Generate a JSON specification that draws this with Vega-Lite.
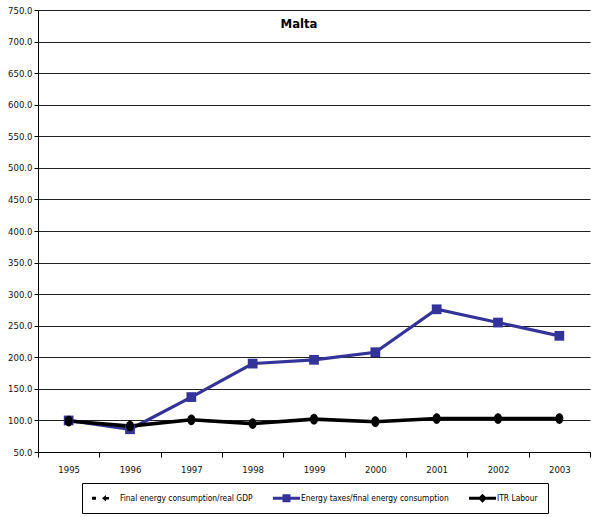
{
  "$schema": "https://vega.github.io/schema/vega-lite/v6.json",
  "width": 552,
  "height": 442,
  "autosize": {"type": "none"},
  "padding": {"left": 38, "top": 10, "right": 2, "bottom": 65},
  "background": "white",
  "config": {
    "font": "DejaVu Sans Condensed",
    "view": {"stroke": null},
    "axis": {"labelFont": "DejaVu Sans Condensed", "labelFontSize": 9.5, "labelColor": "#111", "domainColor": "black", "tickColor": "black", "title": null}
  },
  "title": {"text": "Malta", "fontSize": 13, "fontWeight": "bold", "font": "DejaVu Sans Condensed", "anchor": "middle", "frame": "group", "offset": -26, "dx": -15, "color": "black"},
  "data": {"values": [
    {"year": "1995", "series": "Energy taxes/final energy consumption", "value": 100},
    {"year": "1996", "series": "Energy taxes/final energy consumption", "value": 86},
    {"year": "1997", "series": "Energy taxes/final energy consumption", "value": 137},
    {"year": "1998", "series": "Energy taxes/final energy consumption", "value": 190},
    {"year": "1999", "series": "Energy taxes/final energy consumption", "value": 196},
    {"year": "2000", "series": "Energy taxes/final energy consumption", "value": 208},
    {"year": "2001", "series": "Energy taxes/final energy consumption", "value": 276},
    {"year": "2002", "series": "Energy taxes/final energy consumption", "value": 255},
    {"year": "2003", "series": "Energy taxes/final energy consumption", "value": 234},
    {"year": "1995", "series": "ITR Labour", "value": 99},
    {"year": "1996", "series": "ITR Labour", "value": 91},
    {"year": "1997", "series": "ITR Labour", "value": 101},
    {"year": "1998", "series": "ITR Labour", "value": 95},
    {"year": "1999", "series": "ITR Labour", "value": 102},
    {"year": "2000", "series": "ITR Labour", "value": 98},
    {"year": "2001", "series": "ITR Labour", "value": 103},
    {"year": "2002", "series": "ITR Labour", "value": 103},
    {"year": "2003", "series": "ITR Labour", "value": 103}
  ]},
  "encoding": {
    "x": {"field": "year", "type": "ordinal", "scale": {"type": "band", "paddingInner": 0, "paddingOuter": 0},
      "axis": {"tickBand": "extent", "labelAngle": 0, "tickSize": 5, "labelPadding": 7, "grid": false}},
    "y": {"field": "value", "type": "quantitative", "scale": {"domain": [50, 750], "nice": false, "zero": false},
      "axis": {"values": [50,100,150,200,250,300,350,400,450,500,550,600,650,700,750], "format": ".1f", "tickSize": 4, "labelPadding": 2, "grid": true, "gridColor": "#222", "gridWidth": 1, "gridOpacity": 1}}
  },
  "layer": [
    {
      "mark": {"type": "point", "filled": true, "size": 1, "opacity": 1},
      "encoding": {
        "fill": {"field": "series", "type": "nominal",
          "scale": {"domain": ["Final energy consumption/real GDP", "Energy taxes/final energy consumption", "ITR Labour"], "range": ["black", "#333399", "black"]},
          "legend": {"title": null, "orient": "none", "legendX": 44, "legendY": 473, "direction": "horizontal", "columns": 3, "columnPadding": 20,
            "strokeColor": "black", "padding": 10, "symbolSize": 100, "symbolStrokeWidth": 0, "symbolOpacity": 1,
            "labelFontSize": 8.4, "labelColor": "black", "labelOffset": 18, "labelLimit": 300}},
        "shape": {"field": "series", "type": "nominal",
          "scale": {"domain": ["Final energy consumption/real GDP", "Energy taxes/final energy consumption", "ITR Labour"],
            "range": ["M-1,-0.3H-0.2V0.3H-1Z M1,0L1.8,-0.65V-0.25H2.4V0.25H1.8V0.65Z",
                      "M-1,-0.3H4.4V0.3H-1Z M0.9,-0.8H2.5V0.8H0.9Z",
                      "M-1,-0.3H4.4V0.3H-1Z M1.7,-0.9L2.6,0L1.7,0.9L0.8,0Z"]}}
      }
    },
    {
      "transform": [{"filter": "datum.series === 'Energy taxes/final energy consumption'"}],
      "mark": {"type": "line", "strokeWidth": 3.2, "color": "#333399"},
      "encoding": {}
    },
    {
      "transform": [{"filter": "datum.series === 'ITR Labour'"}],
      "mark": {"type": "line", "strokeWidth": 3.6, "color": "black"},
      "encoding": {}
    },
    {
      "transform": [{"filter": "datum.series === 'Energy taxes/final energy consumption'"}],
      "mark": {"type": "point", "filled": true, "opacity": 1, "size": 95, "shape": "square", "color": "#333399"},
      "encoding": {}
    },
    {
      "transform": [{"filter": "datum.series === 'ITR Labour'"}],
      "mark": {"type": "point", "filled": true, "opacity": 1, "size": 80, "shape": "M0,-1.2A0.9,1.2 0 1,1 0,1.2A0.9,1.2 0 1,1 0,-1.2Z", "color": "black"},
      "encoding": {}
    }
  ]
}
